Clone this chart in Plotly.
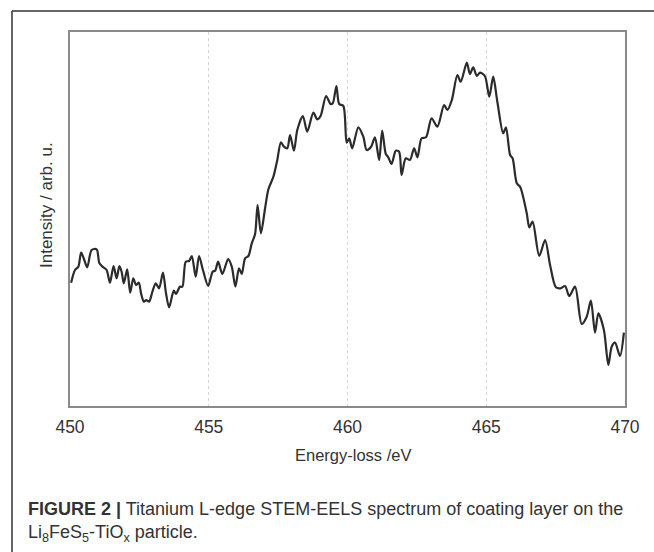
import plotly.graph_objects as go

# Energy-loss (eV) and intensity (arb. u.)
energy = [450.04, 450.18, 450.30, 450.40, 450.49, 450.62, 450.78, 450.96, 451.06, 451.20,
          451.32, 451.44, 451.57, 451.68, 451.78, 451.86, 451.94, 452.06, 452.17, 452.28,
          452.38, 452.48, 452.56, 452.66, 452.75, 452.85, 452.97, 453.09, 453.21, 453.35,
          453.46, 453.57, 453.74, 453.82, 453.96, 454.05, 454.17, 454.29, 454.39, 454.53,
          454.65, 454.79, 454.98, 455.14, 455.23, 455.34, 455.49, 455.70, 455.83, 455.96,
          456.09, 456.19, 456.31, 456.43, 456.55, 456.67, 456.76, 456.88, 457.03, 457.15,
          457.33, 457.47, 457.60, 457.71, 457.83, 457.93, 458.07, 458.19, 458.39, 458.55,
          458.77, 458.91, 459.03, 459.23, 459.39, 459.47, 459.60, 459.70, 459.85, 459.97,
          460.06, 460.17, 460.39, 460.57, 460.69, 460.85, 460.99, 461.14, 461.25, 461.38,
          461.47, 461.59, 461.74, 461.86, 461.95, 462.10, 462.25, 462.40, 462.52, 462.67,
          462.83, 463.03, 463.24, 463.48, 463.60, 463.76, 463.96, 464.08, 464.30, 464.41,
          464.53, 464.66, 464.77, 464.95, 465.11, 465.25, 465.40, 465.61, 465.71, 465.86,
          465.95, 466.10, 466.22, 466.46, 466.55, 466.67, 466.91, 467.12, 467.30, 467.51,
          467.68, 467.84, 467.99, 468.20, 468.44, 468.62, 468.77, 468.92, 469.04, 469.24,
          469.40, 469.52, 469.64, 469.82, 469.96]
intensity = [123.3, 136.0, 139.3, 153.3, 148.0, 138.7, 156.0, 156.7, 142.7, 138.7,
             136.0, 123.3, 140.0, 127.7, 140.0, 134.3, 122.7, 136.7, 113.3, 127.7,
             121.0, 123.3, 112.7, 104.3, 106.0, 104.3, 114.3, 122.7, 117.7, 133.3,
             112.7, 98.7, 115.3, 112.0, 119.3, 119.3, 144.3, 145.0, 150.0, 129.3,
             150.0, 136.0, 120.0, 134.3, 135.3, 144.3, 132.0, 147.0, 139.3, 119.3,
             137.7, 132.0, 147.7, 150.0, 162.7, 172.0, 201.0, 172.7, 197.7, 216.7,
             229.3, 246.0, 263.7, 259.3, 257.7, 271.0, 255.3, 276.0, 290.0, 274.3,
             293.3, 286.7, 290.0, 310.0, 302.0, 302.7, 320.0, 302.0, 300.0, 263.3,
             267.7, 257.7, 278.7, 269.3, 256.0, 259.3, 268.7, 246.0, 275.3, 252.0,
             248.7, 242.0, 255.3, 254.3, 231.0, 247.7, 246.0, 257.7, 248.7, 267.7,
             268.7, 287.7, 279.3, 301.0, 296.0, 306.0, 331.0, 324.3, 343.3, 332.0,
             338.7, 330.0, 333.3, 330.0, 309.3, 329.3, 304.3, 272.7, 278.7, 251.0,
             247.7, 222.7, 219.3, 192.7, 178.7, 184.3, 150.0, 166.0, 141.0, 118.7,
             117.7, 120.0, 110.0, 119.3, 82.0, 89.3, 105.3, 73.3, 92.7, 76.0,
             41.0, 59.3, 63.3, 50.0, 73.3]

x_ticks = [450, 455, 460, 465, 470]
x_title = "Energy-loss /eV"
y_title = "Intensity / arb. u."
caption_line1 = "<b>FIGURE 2 |</b> Titanium L-edge STEM-EELS spectrum of coating layer on the"
caption_line2 = "Li<sub>8</sub>FeS<sub>5</sub>-TiO<sub>x</sub> particle."

W, H = 654, 552
L, R, T, B = 70, 625, 32, 406

def px(x):
    return (x - L) / (R - L)

def py(y):
    return (B - y) / (B - T)

fig = go.Figure()
fig.add_trace(go.Scatter(
    x=energy, y=intensity, mode="lines",
    line=dict(color="#2b2b2b", width=2.2, shape="spline", smoothing=0.8),
    hoverinfo="skip", showlegend=False,
))

font_family = "Liberation Sans, Arial, sans-serif"

fig.update_layout(
    width=W, height=H,
    margin=dict(l=L, r=W - R, t=T, b=H - B, pad=0),
    paper_bgcolor="white", plot_bgcolor="white",
    font=dict(family=font_family, color="#333333"),
    xaxis=dict(
        range=[450, 470], tickvals=x_ticks, ticktext=[str(v) for v in x_ticks],
        showgrid=True, gridcolor="#d4d4d4", griddash="dot", gridwidth=1,
        showline=True, linecolor="#8a8a8a", linewidth=2, mirror=True,
        ticks="", tickfont=dict(size=17.5, color="#333333"),
        ticklabelstandoff=4,
        zeroline=False, fixedrange=True,
    ),
    yaxis=dict(
        range=[0, 374], showticklabels=False, showgrid=False,
        showline=True, linecolor="#8a8a8a", linewidth=2, mirror=True,
        ticks="", zeroline=False, fixedrange=True,
    ),
)

# axis titles
fig.add_annotation(x=px(352.5), y=py(455), xref="paper", yref="paper",
                   text=x_title, showarrow=False, font=dict(size=16.5, color="#333333"),
                   xanchor="center", yanchor="middle")
fig.add_annotation(x=px(47), y=py(205), xref="paper", yref="paper",
                   text=y_title, showarrow=False, textangle=-90,
                   font=dict(size=17, color="#333333"),
                   xanchor="center", yanchor="middle")

# caption
fig.add_annotation(x=px(26), y=py(509), xref="paper", yref="paper",
                   text=caption_line1, showarrow=False, align="left",
                   font=dict(size=18, color="#333333"),
                   xanchor="left", yanchor="middle")
fig.add_annotation(x=px(26), y=py(533), xref="paper", yref="paper",
                   text=caption_line2, showarrow=False, align="left",
                   font=dict(size=18, color="#333333"),
                   xanchor="left", yanchor="middle")

# outer frame (top and left edges visible)
fig.add_shape(type="line", xref="paper", yref="paper",
              x0=px(12), y0=py(11), x1=px(660), y1=py(11),
              line=dict(color="#333333", width=1.5))
fig.add_shape(type="line", xref="paper", yref="paper",
              x0=px(12), y0=py(11), x1=px(12), y1=py(560),
              line=dict(color="#333333", width=1.5))

fig.write_html("out.html")
